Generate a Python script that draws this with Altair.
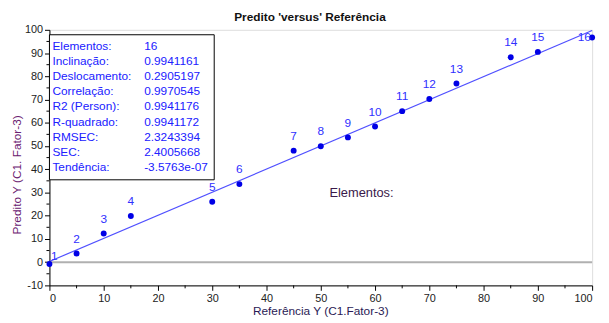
import altair as alt
import pandas as pd

# Data
ref = [0, 5, 10, 15, 30, 35, 45, 50, 55, 60, 65, 70, 75, 85, 90, 100]
pred = [-0.8, 3.7, 12.3, 19.9, 26.0, 33.6, 48.0, 49.9, 53.7, 58.4, 65.0, 70.2, 76.9, 88.2, 90.5, 96.7]
ids = list(range(1, 17))

slope = 0.9941161
intercept = 0.2905197

stat_names = ["Elementos:", "Inclinação:", "Deslocamento:", "Correlação:", "R2 (Person):",
              "R-quadrado:", "RMSEC:", "SEC:", "Tendência:"]
stat_values = ["16", "0.9941161", "0.2905197", "0.9970545", "0.9941176",
               "0.9941172", "2.3243394", "2.4005668", "-3.5763e-07"]

x_major = list(range(0, 101, 10))
x_minor = list(range(5, 100, 10))
y_major = list(range(-10, 101, 10))
y_minor = list(range(-5, 100, 10))

FONT = "Liberation Sans"
W, H = 550, 259

pts = pd.DataFrame({"ref": ref, "pred": pred, "id": [str(i) for i in ids]})
fit = pd.DataFrame({"ref": [0, 100]})
fit["pred"] = intercept + slope * fit["ref"]
stats = pd.DataFrame({"name": stat_names, "value": stat_values, "row": list(range(len(stat_names)))})

xs = alt.Scale(domain=[0, 100], nice=False, zero=False)
ys = alt.Scale(domain=[-10, 100], nice=False, zero=False)

axis_common = dict(labelFont=FONT, labelFontSize=11, labelColor="#222222",
                   domainColor="#000000", tickColor="#000000", grid=False,
                   title=None, labelPadding=2, tickSize=5, labelOverlap=False,
                   labelExpr="'' + datum.value")
XAX = alt.Axis(values=x_major, **axis_common)
YAX = alt.Axis(values=y_major, **axis_common)


def X(field):
    return alt.X(field, scale=xs, axis=XAX)


def Y(field):
    return alt.Y(field, scale=ys, axis=YAX)


zero = alt.Chart(pd.DataFrame({"a": [0], "b": [100], "z": [0]})).mark_rule(
    color="#b0b0b0", strokeWidth=2).encode(
    x=X("a:Q"), x2="b:Q", y=Y("z:Q"))

xminor = alt.Chart(pd.DataFrame({"ref": x_minor})).mark_rule(color="#000000").encode(
    x=X("ref:Q"), y=alt.value(H), y2=alt.value(H + 3))
yminor = alt.Chart(pd.DataFrame({"pred": y_minor})).mark_rule(color="#000000").encode(
    y=Y("pred:Q"), x=alt.value(-3), x2=alt.value(0))

line = alt.Chart(fit).mark_line(color="#5050ff", strokeWidth=1.2).encode(
    x=X("ref:Q"), y=Y("pred:Q"))

dots = alt.Chart(pts).mark_circle(color="#0000e6", size=36, opacity=1).encode(
    x=X("ref:Q"), y=Y("pred:Q"))

lab_main = alt.Chart(pts).transform_filter("datum.id != '1' && datum.id != '16'").mark_text(
    color="#3030ff", font=FONT, fontSize=12, dy=-15).encode(
    x=X("ref:Q"), y=Y("pred:Q"), text="id:N")
lab_1 = alt.Chart(pts).transform_filter("datum.id == '1'").mark_text(
    color="#3030ff", font=FONT, fontSize=12, dx=5, dy=-8).encode(
    x=X("ref:Q"), y=Y("pred:Q"), text="id:N")
lab_16 = alt.Chart(pts).transform_filter("datum.id == '16'").mark_text(
    color="#3030ff", font=FONT, fontSize=12, dx=-8, dy=0).encode(
    x=X("ref:Q"), y=Y("pred:Q"), text="id:N")

elem_txt = alt.Chart(pd.DataFrame({"ref": [51.6], "pred": [29.8], "t": ["Elementos:"]})).mark_text(
    color="#3a1a4a", font=FONT, fontSize=13, align="left").encode(
    x=X("ref:Q"), y=Y("pred:Q"), text="t:N")

box = alt.Chart(pd.DataFrame({"a": [0]})).mark_rect(
    fill="white", stroke="#000000", strokeWidth=1).encode(
    x=alt.value(0), x2=alt.value(167), y=alt.value(5), y2=alt.value(152))

# stats rows: pixel row offset converted to data units of the shared y scale
row_y = "100 - (16 + 15.4*datum.row) * 110 / %d" % H
stat_name_txt = alt.Chart(stats).transform_calculate(pred=row_y).mark_text(
    color="#2020ff", font=FONT, fontSize=12, align="left", baseline="middle").encode(
    x=alt.value(3), y=Y("pred:Q"), text="name:N")
stat_val_txt = alt.Chart(stats).transform_calculate(pred=row_y).mark_text(
    color="#2020ff", font=FONT, fontSize=12, align="left", baseline="middle").encode(
    x=alt.value(96), y=Y("pred:Q"), text="value:N")

title_txt = alt.Chart(pd.DataFrame({"t": ["Predito 'versus' Referência"]})).mark_text(
    font=FONT, fontSize=12, fontWeight="bold", color="#111111", baseline="middle").encode(
    x=alt.value(264), y=alt.value(-13), text="t:N")

xtitle = alt.Chart(pd.DataFrame({"t": ["Referência Y (C1.Fator-3)"]})).mark_text(
    font=FONT, fontSize=12, color="#2a1a55", baseline="middle").encode(
    x=alt.value(275), y=alt.value(H + 26), text="t:N")

ytitle = alt.Chart(pd.DataFrame({"t": ["Predito Y (C1. Fator-3)"]})).mark_text(
    font=FONT, fontSize=12, color="#6a2070", baseline="middle", angle=270).encode(
    x=alt.value(-33), y=alt.value(147), text="t:N")

chart = alt.layer(
    zero, xminor, yminor, line, dots, lab_main, lab_1, lab_16, elem_txt,
    box, stat_name_txt, stat_val_txt, title_txt, xtitle, ytitle
).properties(
    width=W, height=H,
    autosize=alt.AutoSizeParams(type="none"),
    padding={"left": 42, "top": 20, "right": 9, "bottom": 36},
).configure_view(stroke=None).configure(background="white")

chart.save("out.html", embed_options={"renderer": "svg", "actions": False})
